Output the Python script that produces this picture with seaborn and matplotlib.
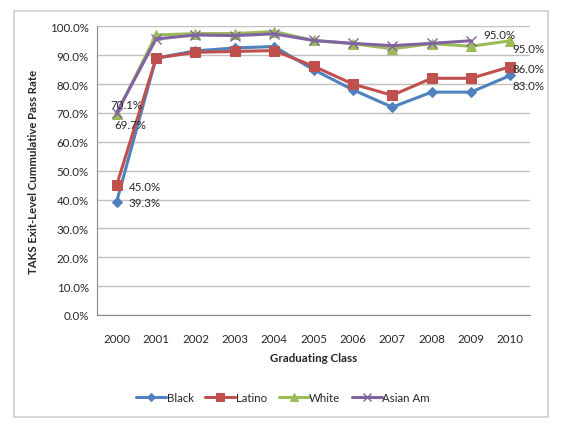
import numpy as np
import pandas as pd
import matplotlib
matplotlib.use("Agg")
import matplotlib.pyplot as plt
from matplotlib.patches import Rectangle
from matplotlib.ticker import PercentFormatter
import seaborn as sns

# values (percent)
years = [2000, 2001, 2002, 2003, 2004, 2005, 2006, 2007, 2008, 2009, 2010]
black = [39.3, 89.0, 91.5, 92.5, 93.0, 85.0, 78.0, 72.0, 77.2, 77.2, 83.0]
latino = [45.0, 89.0, 91.0, 91.3, 91.6, 86.2, 80.0, 76.1, 82.0, 82.0, 86.0]
white = [69.7, 97.0, 97.5, 97.5, 98.2, 95.1, 94.0, 92.2, 94.0, 93.1, 95.0]
asian = [70.1, 95.6, 97.0, 96.8, 97.4, 95.1, 94.1, 93.3, 94.1, 95.0, np.nan]
series_names = ["Black", "Latino", "White", "Asian Am"]

sns.set_style("white")
plt.rcParams["font.family"] = ["Lato", "DejaVu Sans"]

df = pd.DataFrame({"year": years, "Black": black, "Latino": latino,
                   "White": white, "Asian Am": asian})

styles = {
    "Black": dict(color="#4F81BD", marker="D", markersize=5),
    "Latino": dict(color="#C0504D", marker="s", markersize=7),
    "White": dict(color="#9BBB59", marker="^", markersize=7),
    "Asian Am": dict(color="#8064A2", marker="x", markersize=7,
                     markeredgewidth=1.0),
}

fig = plt.figure(figsize=(5.69, 4.27), dpi=100)
# chart frame
fig.patches.append(Rectangle((0.0246, 0.021), 0.938, 0.952,
                             transform=fig.transFigure, fill=False,
                             edgecolor="#d0d0d0", linewidth=1.2))
ax = fig.add_axes([0.1705, 0.26, 0.761, 0.676])

for name in series_names:
    st = styles[name]
    sns.lineplot(data=df, x="year", y=name, ax=ax, label=name,
                 linewidth=2.2, markeredgecolor=st["color"], **st)

ax.set_xlim(1999.5, 2010.5)
ax.set_ylim(0, 100)
ax.set_xticks(years)
ax.set_yticks(np.arange(0, 101, 10))
ax.yaxis.set_major_formatter(PercentFormatter(100, decimals=1))
ax.tick_params(axis="both", labelsize=8.3, length=0, pad=6)
ax.tick_params(axis="x", pad=13)
ax.grid(axis="y", color="#c0c0c0", linewidth=1.0)
ax.set_axisbelow(True)
for side in ["top", "right"]:
    ax.spines[side].set_visible(False)
for side in ["left", "bottom"]:
    ax.spines[side].set_color("#888888")
    ax.spines[side].set_linewidth(0.8)

ax.set_xlabel("Graduating Class", fontsize=8.3, fontweight="bold", labelpad=6)
ax.set_ylabel("TAKS Exit-Level Cummulative Pass Rate", fontsize=8.2,
              fontweight="bold", labelpad=8)

# data labels
labels = [
    (2000, asian[0], "70.1%", (-6, 8)),
    (2000, white[0], "69.7%", (-2, -11)),
    (2000, latino[0], "45.0%", (12, -1)),
    (2000, black[0], "39.3%", (12, -1)),
    (2009, asian[9], "95.0%", (12, 6)),
    (2010, white[10], "95.0%", (2, -8)),
    (2010, latino[10], "86.0%", (2, -2)),
    (2010, black[10], "83.0%", (2, -10)),
]
for x, y, txt, off in labels:
    ax.annotate(txt, (x, y), xytext=off, textcoords="offset pixels",
                ha="left", va="center", fontsize=8.3)

ax.legend(loc="upper center", bbox_to_anchor=(0.43, -0.232), ncol=4,
          frameon=False, fontsize=8.3, handlelength=2.6, handletextpad=0.05,
          columnspacing=1.0, markerscale=0.75)

fig.savefig("out.png", dpi=100)
